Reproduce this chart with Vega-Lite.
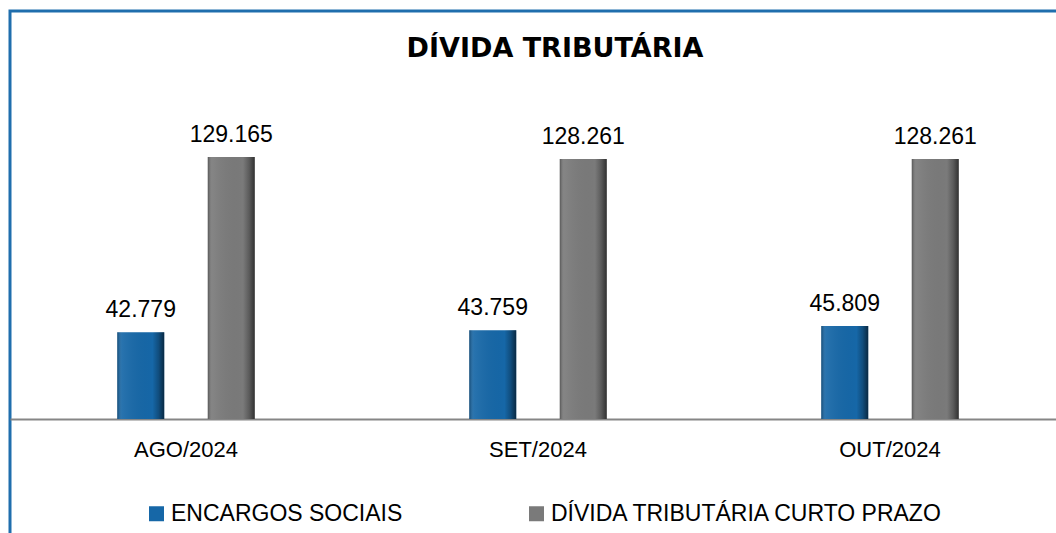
{
  "$schema": "https://vega.github.io/schema/vega-lite/v6.json",
  "width": 1056,
  "height": 560,
  "padding": {"left": 10, "top": 11, "right": 0, "bottom": 0},
  "title": {
    "text": "DÍVIDA TRIBUTÁRIA",
    "anchor": "middle",
    "frame": "group",
    "offset": -73,
    "baseline": "alphabetic",
    "dx": 17,
    "font": "DejaVu Sans",
    "fontSize": 27,
    "fontWeight": "bold",
    "color": "#000000"
  },
  "data": {
    "values": [
      {"mes": "AGO/2024", "serie": "ENCARGOS SOCIAIS", "valor": 42779},
      {"mes": "AGO/2024", "serie": "DÍVIDA TRIBUTÁRIA CURTO PRAZO", "valor": 129165},
      {"mes": "SET/2024", "serie": "ENCARGOS SOCIAIS", "valor": 43759},
      {"mes": "SET/2024", "serie": "DÍVIDA TRIBUTÁRIA CURTO PRAZO", "valor": 128261},
      {"mes": "OUT/2024", "serie": "ENCARGOS SOCIAIS", "valor": 45809},
      {"mes": "OUT/2024", "serie": "DÍVIDA TRIBUTÁRIA CURTO PRAZO", "valor": 128261}
    ]
  },
  "encoding": {
    "x": {
      "field": "mes",
      "type": "nominal",
      "sort": ["AGO/2024", "SET/2024", "OUT/2024"],
      "scale": {"paddingInner": 0.0952, "paddingOuter": 0.0476},
      "axis": {
        "title": null,
        "orient": "bottom",
        "offset": -152,
        "labelAngle": 0,
        "ticks": false,
        "tickSize": 0,
        "labelPadding": 20,
        "labelFont": "Liberation Sans",
        "labelFontSize": 22,
        "labelColor": "#000000",
        "domainColor": "#868686",
        "domainWidth": 2,
        "grid": false
      }
    },
    "xOffset": {
      "field": "serie",
      "type": "nominal",
      "sort": ["ENCARGOS SOCIAIS", "DÍVIDA TRIBUTÁRIA CURTO PRAZO"],
      "scale": {"paddingInner": 0.481, "paddingOuter": 1}
    },
    "y": {
      "field": "valor",
      "type": "quantitative",
      "scale": {"domain": [-74950, 201180], "nice": false, "zero": false},
      "axis": null
    }
  },
  "layer": [
    {
      "mark": {"type": "bar", "strokeWidth": 0},
      "encoding": {
        "color": {
          "field": "serie",
          "type": "nominal",
          "sort": ["ENCARGOS SOCIAIS", "DÍVIDA TRIBUTÁRIA CURTO PRAZO"],
          "scale": {
            "domain": ["ENCARGOS SOCIAIS", "DÍVIDA TRIBUTÁRIA CURTO PRAZO"],
            "range": ["#1667A7", "#7A7A7A"]
          },
          "legend": {
            "title": null,
            "orient": "none",
            "direction": "horizontal",
            "legendX": 135,
            "legendY": 491,
            "symbolType": "square",
            "symbolSize": 225,
            "symbolStrokeWidth": 0,
            "labelFont": "Liberation Sans",
            "labelFontSize": 23,
            "labelColor": "#000000",
            "labelOffset": 3,
            "labelLimit": 600,
            "columnPadding": 122
          }
        }
      }
    },
    {
      "mark": {
        "type": "bar",
        "strokeWidth": 0,
        "color": {
          "gradient": "linear",
          "x1": 0, "y1": 0, "x2": 1, "y2": 0,
          "stops": [
            {"offset": 0, "color": "rgba(0,0,0,0.3)"},
            {"offset": 0.1, "color": "rgba(255,255,255,0.08)"},
            {"offset": 0.75, "color": "rgba(0,0,0,0)"},
            {"offset": 0.88, "color": "rgba(0,0,0,0.25)"},
            {"offset": 1, "color": "rgba(0,0,0,0.6)"}
          ]
        }
      }
    },
    {
      "mark": {
        "type": "text",
        "baseline": "alphabetic",
        "dy": -15,
        "font": "Liberation Sans",
        "fontSize": 23,
        "color": "#000000"
      },
      "encoding": {
        "text": {"field": "valor", "type": "quantitative", "format": ",d"}
      }
    }
  ],
  "config": {
    "locale": {
      "number": {
        "decimal": ",",
        "thousands": ".",
        "grouping": [3],
        "currency": ["R$", ""]
      }
    },
    "view": {"stroke": "#1F6EAD", "strokeWidth": 3},
    "background": "#ffffff"
  }
}
